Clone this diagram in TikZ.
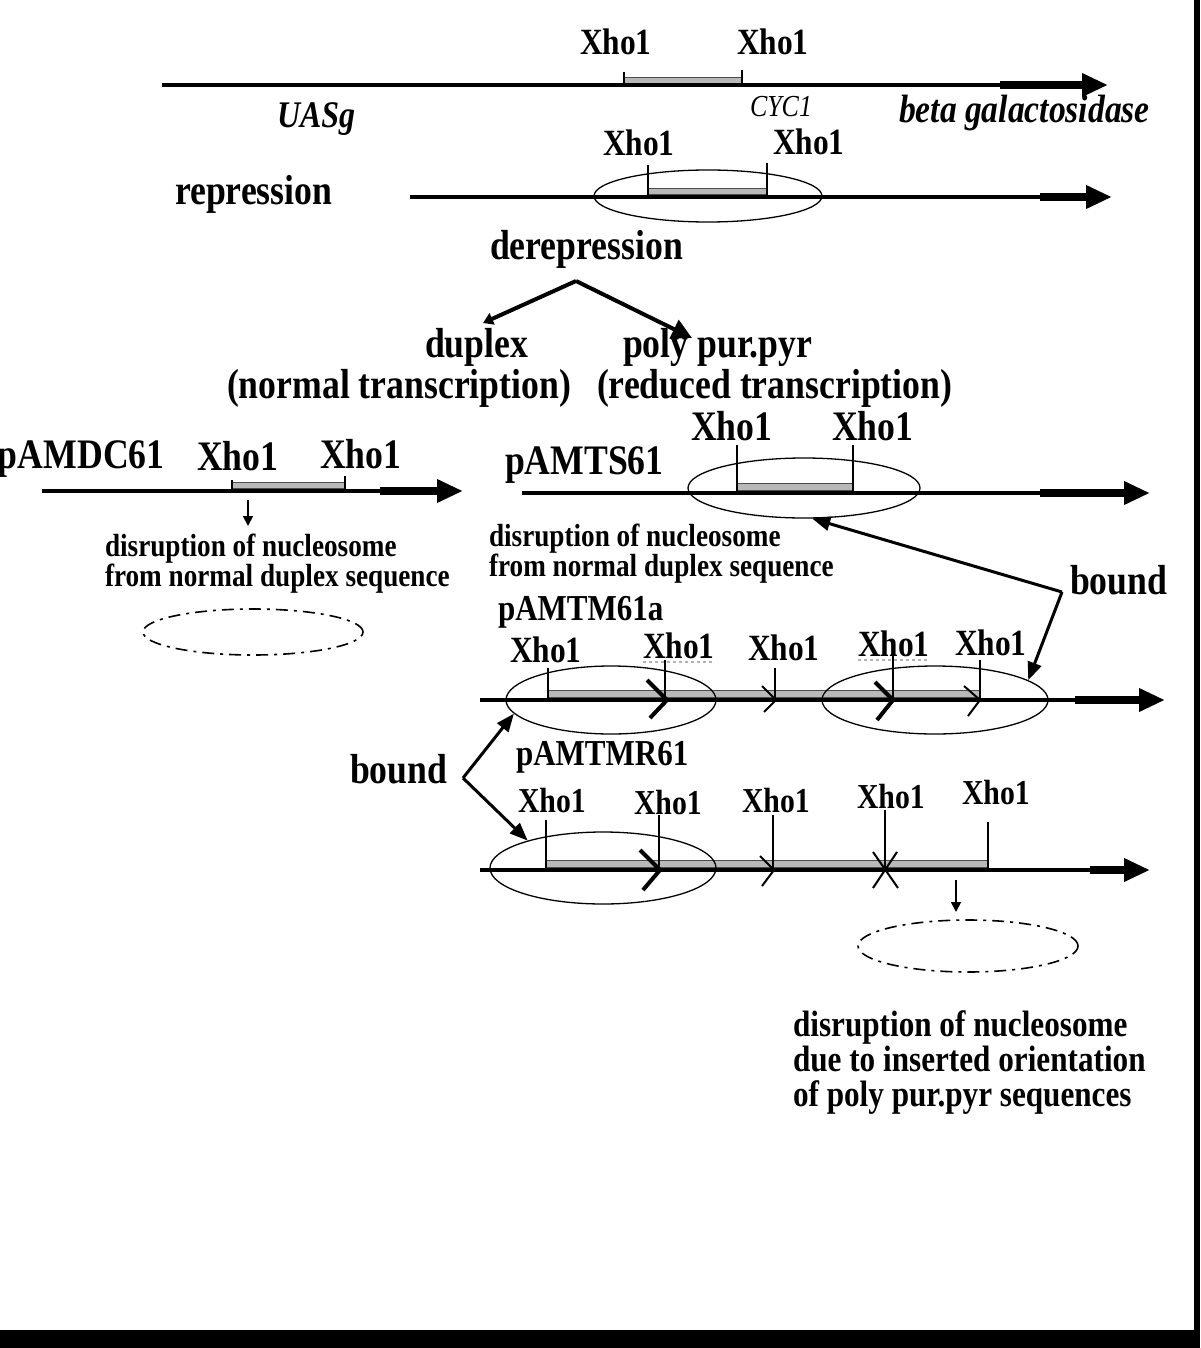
\documentclass[tikz,border=0pt]{standalone}
\usepackage{fontspec}
\setmainfont[FakeStretch=0.85]{Liberation Serif}
\usetikzlibrary{arrows.meta,shapes.geometric}
\newcommand\fsBig{\fontsize{42}{48}\selectfont\bfseries}
\newcommand\fsXho{\fontsize{37}{42}\selectfont\bfseries}
\newcommand\fsXhoS{\fontsize{35}{40}\selectfont\bfseries}
\newcommand\fsSmall{\fontsize{32}{36}\selectfont\bfseries}
\newcommand\fsPlas{\fontsize{36.5}{42}\selectfont\bfseries}
\newcommand\fsBot{\fontsize{36.7}{41}\selectfont\bfseries}
\begin{document}
\begin{tikzpicture}[x=1pt,y=-1pt,
  lbl/.style={anchor=base west,inner sep=0pt,outer sep=0pt},
  dna/.style={line width=4pt},
  dnahead/.style={line width=8pt,-{Triangle[length=26pt,width=22pt]}},
  xtick/.style={line width=1.6pt},
  hatchbox/.style={fill=gray!55,draw=black!70,line width=0.6pt},
  nuc/.style={draw,ellipse,line width=1.3pt,inner sep=0pt},
  lostnuc/.style={draw,ellipse,line width=1.6pt,inner sep=0pt,dash pattern=on 12pt off 6pt on 3pt off 6pt},
  chevB/.style={line width=4pt},
  chevT/.style={line width=2pt},
  boundarrow/.style={line width=3pt,-{Triangle[length=18pt,width=14pt]}},
  branch/.style={line width=4pt},
  smallarrow/.style={line width=1.8pt,-{Triangle[length=10pt,width=10pt]}}]
\useasboundingbox (0,0) rectangle (1200,1348);
\fill[white] (0,0) rectangle (1200,1348);
\fill[black] (1194,0) rectangle (1200,1348);
\fill[black] (0,1330) rectangle (1200,1348);

% ---------- Row 1 ----------
\coordinate (r1s) at (162,85); \coordinate (r1t) at (1000,85); \coordinate (r1e) at (1108,85);
\filldraw[hatchbox] (624,77) rectangle (742,83);
\draw[dna] (r1s) -- (r1t);
\draw[dnahead] (r1t) -- (r1e);
\draw[xtick] (624,72) -- (624,85); \draw[xtick] (742,70) -- (742,85);
\node[lbl] (r1x1) at (580,55) {\fsXho Xho1};
\node[lbl] (r1x2) at (737,55) {\fsXho Xho1};
\node[lbl] (uasg) at (277,128) {\fontsize{37.6}{42}\selectfont\bfseries\itshape UASg};
\node[lbl] (cyc1) at (750,117) {\fontsize{30.5}{34}\selectfont\itshape CYC1};
\node[lbl] (bgal) at (899,123) {\fontsize{39.5}{44}\selectfont\bfseries\itshape beta galactosidase};

% ---------- Row 2 ----------
\node[lbl] (repr) at (175,205) {\fsBig repression};
\coordinate (r2s) at (410,197); \coordinate (r2t) at (1040,197); \coordinate (r2e) at (1112,197);
\filldraw[hatchbox] (648,188) rectangle (767,194);
\draw[dna] (r2s) -- (r2t);
\draw[dnahead] (r2t) -- (r2e);
\draw[xtick] (648,165) -- (648,197); \draw[xtick] (767,163) -- (767,197);
\node[nuc,minimum width=228pt,minimum height=52pt] (e2) at (708,196) {};
\node[lbl] (r2x1) at (603,156) {\fsXho Xho1};
\node[lbl] (r2x2) at (773,155) {\fsXho Xho1};

\node[lbl] (derep) at (490,259) {\fsBig derepression};
\coordinate (apex) at (576,281);
\coordinate (tipL) at (483,323);
\coordinate (tipR) at (692,338);
\draw[branch,-{Triangle[length=10pt,width=12pt]}] (apex) -- (tipL);
\draw[branch,-{Triangle[length=20pt,width=20pt]}] (apex) -- (tipR);
\node[lbl] (dup) at (425,357) {\fsBig duplex};
\node[lbl] (ppp) at (623,357) {\fsBig poly pur.pyr};
\node[lbl] (ntr) at (227,398) {\fsBig (normal transcription)};
\node[lbl] (rtr) at (597,398) {\fsBig (reduced transcription)};

% ---------- pAMDC61 ----------
\node[lbl] (dc) at (-2,468) {\fsBig pAMDC61};
\coordinate (dcs) at (42,491); \coordinate (dct) at (380,491); \coordinate (dce) at (463,491);
\filldraw[hatchbox] (232,482) rectangle (345,488);
\draw[dna] (dcs) -- (dct);
\draw[dnahead] (dct) -- (dce);
\draw[xtick] (232,480) -- (232,491); \draw[xtick] (345,476) -- (345,491);
\node[lbl] (dcx1) at (197,470) {\fsBig Xho1};
\node[lbl] (dcx2) at (320,468) {\fsBig Xho1};
\coordinate (dcd1) at (248,500); \coordinate (dcd2) at (248,526);
\draw[smallarrow] (dcd1) -- (dcd2);
\node[lbl] (dct1) at (105,556) {\fsSmall disruption of nucleosome};
\node[lbl] (dct2) at (105,586) {\fsSmall from normal duplex sequence};
\node[lostnuc,minimum width=220pt,minimum height=46pt] (dcl) at (253,632) {};

% ---------- pAMTS61 ----------
\node[lbl] (ts) at (505,474) {\fsBig pAMTS61};
\coordinate (tss) at (522,493); \coordinate (tst) at (1040,493); \coordinate (tse) at (1150,493);
\filldraw[hatchbox] (737,483) rectangle (853,490);
\draw[dna] (tss) -- (tst);
\draw[dnahead] (tst) -- (tse);
\draw[xtick] (737,445) -- (737,493); \draw[xtick] (853,445) -- (853,493);
\node[nuc,minimum width=232pt,minimum height=60pt] (ets) at (804,488) {};
\node[lbl] (tsx1) at (691,440) {\fsBig Xho1};
\node[lbl] (tsx2) at (832,440) {\fsBig Xho1};
\node[lbl] (tst1) at (489,546) {\fsSmall disruption of nucleosome};
\node[lbl] (tst2) at (489,576) {\fsSmall from normal duplex sequence};

\node[lbl] (boundR) at (1070,594) {\fsBig bound};
\coordinate (bR) at (1062,592);
\draw[boundarrow] (bR) -- (ets.-75);

% ---------- pAMTM61a ----------
\node[lbl] (tm) at (498,620) {\fsPlas pAMTM61a};
\coordinate (tms) at (480,700); \coordinate (tmt) at (1075,700); \coordinate (tme) at (1165,700);
\filldraw[hatchbox] (548,690) rectangle (980,697);
\draw[dna] (tms) -- (tmt);
\draw[dnahead] (tmt) -- (tme);
\draw[xtick] (548,668) -- (548,700);
\draw[xtick] (665,660) -- (665,700);
\draw[xtick] (775,668) -- (775,700);
\draw[xtick] (893,655) -- (893,700);
\draw[xtick] (980,660) -- (980,700);
\draw[chevB] (647,680) -- (667,700) -- (650,718);
\draw[chevT] (762,686) -- (776,700) -- (764,712);
\draw[chevB] (875,682) -- (893,700) -- (877,720);
\draw[chevT] (964,686) -- (980,700) -- (968,716);
\node[nuc,minimum width=210pt,minimum height=68pt] (tma) at (611,700) {};
\node[nuc,minimum width=226pt,minimum height=68pt] (tmb) at (935,700) {};
\node[lbl] (tmx1) at (510,662) {\fsXho Xho1};
\node[lbl] (tmx2) at (643,658) {\fsXho Xho1};
\node[lbl] (tmx3) at (748,660) {\fsXho Xho1};
\node[lbl] (tmx4) at (858,656) {\fsXho Xho1};
\node[lbl] (tmx5) at (955,655) {\fsXho Xho1};
\draw[gray!60,dashed,line width=1.4pt] ([yshift=-4pt]tmx2.base west) -- ([yshift=-4pt]tmx2.base east);
\draw[gray!60,dashed,line width=1.4pt] ([yshift=-4pt]tmx4.base west) -- ([yshift=-4pt]tmx4.base east);
\draw[boundarrow] (bR) -- (tmb.12);

% ---------- bound (left) ----------
\node[lbl] (boundL) at (350,783) {\fsBig bound};
\coordinate (bL) at (463,778);

% ---------- pAMTMR61 ----------
\node[lbl] (tmr) at (516,765) {\fsPlas pAMTMR61};
\coordinate (trs) at (480,870); \coordinate (trt) at (1090,870); \coordinate (tre) at (1150,870);
\filldraw[hatchbox] (546,860) rectangle (988,867);
\draw[dna] (trs) -- (trt);
\draw[dnahead] (trt) -- (tre);
\draw[xtick] (546,820) -- (546,870);
\draw[xtick] (659,815) -- (659,870);
\draw[xtick] (773,815) -- (773,870);
\draw[xtick] (885,810) -- (885,870);
\draw[xtick] (988,822) -- (988,870);
\draw[chevB] (640,850) -- (660,870) -- (643,890);
\draw[chevT] (760,856) -- (774,870) -- (762,886);
\draw[chevT] (873,852) -- (898,888);
\draw[chevT] (897,852) -- (873,888);
\node[nuc,minimum width=226pt,minimum height=72pt] (tr) at (603,868) {};
\node[lbl] (trx1) at (518,812) {\fsXhoS Xho1};
\node[lbl] (trx2) at (634,814) {\fsXhoS Xho1};
\node[lbl] (trx3) at (742,812) {\fsXhoS Xho1};
\node[lbl] (trx4) at (857,808) {\fsXhoS Xho1};
\node[lbl] (trx5) at (962,804) {\fsXhoS Xho1};

\draw[boundarrow] (bL) -- (tma.188);
\draw[boundarrow] (bL) -- (tr.160);

\coordinate (trd1) at (956,880); \coordinate (trd2) at (956,912);
\draw[smallarrow] (trd1) -- (trd2);
\node[lostnuc,minimum width=220pt,minimum height=52pt] (trl) at (968,946) {};

\node[lbl] (bt1) at (793,1036) {\fsBot disruption of nucleosome};
\node[lbl] (bt2) at (793,1071) {\fsBot due to inserted orientation};
\node[lbl] (bt3) at (793,1106) {\fsBot of poly pur.pyr sequences};
\end{tikzpicture}
\end{document}
